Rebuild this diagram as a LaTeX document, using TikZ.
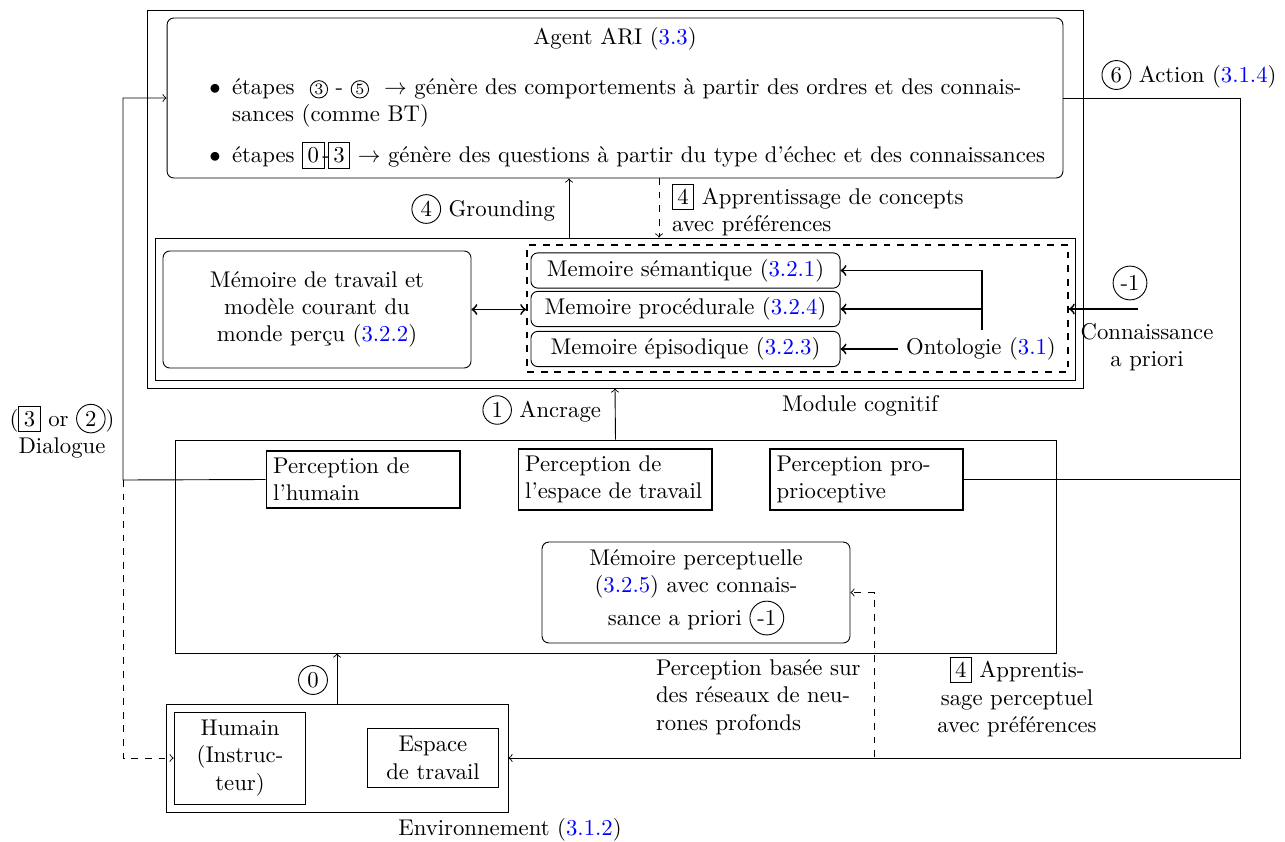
\documentclass[tikz,border=0pt]{standalone}
\usepackage{xcolor}
\usepackage{tikz}
\usetikzlibrary{positioning}

\tikzset{
    cnreset/.style={minimum width=0pt, minimum height=0pt, text width={}, sharp corners, solid, thin, anchor=center, align=center, fill=none, font=}
}
\newcommand{\sref}[1]{\textcolor{blue}{#1}}
\newcommand{\cnum}[1]{\tikz[baseline=(cn.base)]\node[cnreset, draw, circle, inner sep=1.5pt] (cn) {#1};}
\newcommand{\cnumsmall}[1]{\tikz[baseline=(cn.base)]\node[cnreset, draw, circle, inner sep=0.5pt, font=\scriptsize] (cn) {#1};}
\newcommand{\bnum}[1]{{\setlength{\fboxsep}{2pt}\fbox{#1}}}
\renewcommand{\labelitemi}{$\bullet$}

\begin{document}
\begin{tikzpicture}[
    x=0.44pt, y=0.44pt,
    frame/.style={draw, minimum width=#1},
    rbox/.style={draw, rounded corners=3pt, align=center},
    mbox/.style={draw, rounded corners=3pt, inner sep=2pt, minimum width=136pt, minimum height=15.5pt},
    pbox/.style={draw, thick, align=left, text width=79pt, inner sep=3pt},
    num/.style={draw, circle, inner sep=1.5pt},
    ar/.style={->},
    ard/.style={->, dashed}
]
\useasboundingbox (0,0) rectangle (1285,-841);

% module cognitif
\node[frame=411.8pt, minimum height=166.3pt] (cog) at (615,-199) {};
\node[frame=404.8pt, minimum height=62.5pt] (mem) at (615,-309) {};
\node (coglabel) at (860,-406) {Module cognitif};

\node[rbox, inner sep=3.5pt, minimum width=394.2pt, minimum height=70.4pt] (agent) at (615,-98) {%
  \begin{minipage}{387pt}
  {\centering Agent ARI (\sref{3.3})\par}
  \begin{itemize}\setlength{\itemsep}{2pt}
  \item étapes ~\cnumsmall{3} - \cnumsmall{5}~ $\rightarrow$ génère des comportements à partir des ordres et des connais-\\sances (comme BT)
  \item étapes \bnum{0}\kern-0.9pt-\kern-0.9pt\bnum{3} $\rightarrow$ génère des questions à partir du type d'échec et des connaissances
  \end{itemize}
  \end{minipage}};

\node[rbox, minimum width=135.5pt, minimum height=51.5pt] (travail) at (317,-309.5) {Mémoire de travail et\\modèle courant du\\monde perçu (\sref{3.2.2})};
\node[draw, thick, dashed, minimum width=238pt, minimum height=55.9pt] (ltm) at (797.5,-308.5) {};
\node[mbox] (sem) at (685.5,-270.5) {Memoire sémantique (\sref{3.2.1})};
\node[mbox] (proc) at (685.5,-309) {Memoire procédurale (\sref{3.2.4})};
\node[mbox] (epi) at (685.5,-349) {Memoire épisodique (\sref{3.2.3})};
\node (onto) at (981,-349) {Ontologie (\sref{3.1})};
\coordinate (ontoup) at (982,-330);

\draw[<->, thick] (travail) -- (ltm.west |- travail);
\draw[ar, thick] (onto) -- (epi);
\draw[ar, thick] (ontoup) |- (sem);
\draw[ar, thick] (ontoup) |- (proc);

% connaissance a priori
\coordinate (prior) at (1138,-309);
\node[num] (priornum) at (1130,-283) {-1};
\node[align=center] (priortext) at (1147,-347) {Connaissance\\a priori};
\draw[ar, thick] (prior) -- (ltm.east |- prior);

% grounding et apprentissage
\coordinate (grd) at (569,-238);
\draw[ar] (grd) -- (grd |- agent.south);
\node[anchor=east] (grdlabel) at (563,-209) {\cnum{4} Grounding};
\coordinate (app) at (659,-178);
\draw[ard] (app) -- (app |- mem.north);
\node[align=left, anchor=west] (applabel) at (664,-210) {\bnum{4} Apprentissage de concepts\\avec préférences};

% perception
\node[frame=387.6pt, minimum height=93.7pt] (perc) at (615.5,-546.5) {};
\node[pbox] (phum) at (363,-479.5) {Perception de\\l'humain};
\node[pbox] (pesp) at (615,-479.5) {Perception de\\l'espace de travail};
\node[pbox] (ppro) at (866.5,-479.5) {Perception pro-\\prioceptive};
\node[rbox, minimum width=135.5pt, minimum height=44.4pt] (mperc) at (696,-592.5) {Mémoire perceptuelle\\(\sref{3.2.5}) avec connais-\\sance a priori \cnum{-1}};
\draw[ar] (perc.north) -- (cog.south);
\node[anchor=east] (anclabel) at (609,-410) {\cnum{1} Ancrage};

\node[align=left, anchor=west] (dnn) at (648,-697) {Perception basée sur\\des réseaux de neu-\\rones profonds};
\node[align=center] (applabel2) at (1017,-697) {\bnum{4} Apprentis-\\sage perceptuel\\avec préférences};

% environnement
\node[frame=150.5pt, minimum height=47.5pt] (env) at (337,-758) {};
\node[draw, align=center, minimum width=58pt, minimum height=40.5pt] (humain) at (240,-758) {Humain\\(Instruc-\\teur)};
\node[draw, align=center, minimum width=58pt, minimum height=25.5pt] (espace) at (433,-758) {Espace\\de travail};
\node (envlabel) at (510,-830) {Environnement (\sref{3.1.2})};
\draw[ar] (env.north) -- (env.north |- perc.south);
\node[num] (zero) at (313,-680) {0};

% action
\coordinate (actcorner) at (1240,-98);
\draw[ar] (agent.east) -- (actcorner) |- (env.east);
\draw (ppro.east) -- (ppro.east -| actcorner);
\node (actlabel) at (1189,-75) {\cnum{6} Action (\sref{3.1.4})};
\coordinate (percsrc) at (874,-757);
\draw[ard] (percsrc) |- (mperc.east);

% dialogue
\coordinate (dlg) at (123,-480);
\draw[ar] (phum.west) -- (dlg) |- (agent.west);
\draw[ard] (dlg) |- (humain.west);
\node[align=center] (dlglabel) at (62,-431) {(\bnum{3} or \cnum{2})\\Dialogue};
\end{tikzpicture}
\end{document}
